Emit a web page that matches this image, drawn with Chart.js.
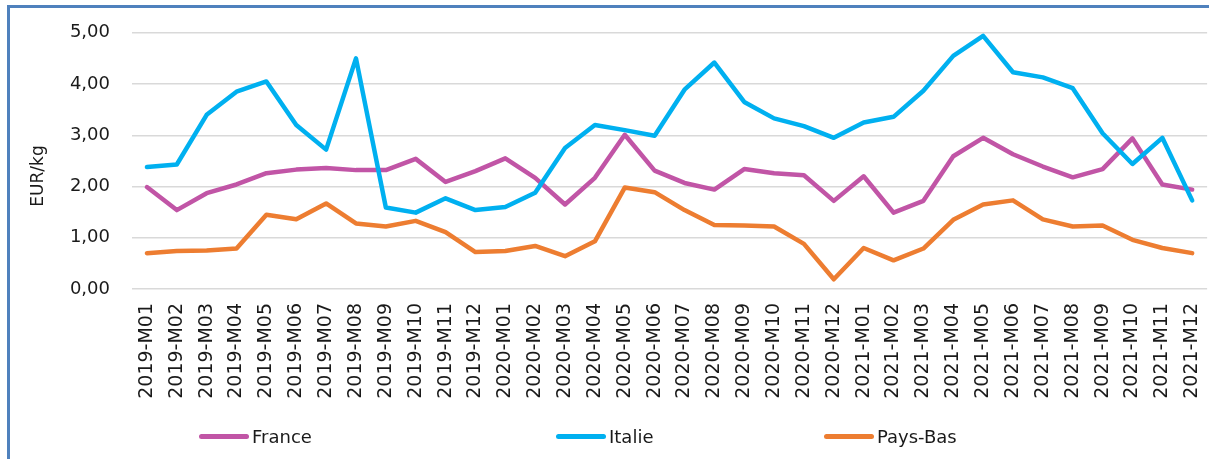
<!DOCTYPE html>
<html>
<head>
<meta charset="utf-8">
<script src="https://cdn.jsdelivr.net/npm/chart.js@4"></script>
<style>
  html, body { margin: 0; padding: 0; background: #fff; }
  body { width: 1209px; height: 459px; position: relative; overflow: hidden; font-family: "DejaVu Sans", sans-serif; }
  #frame { position: absolute; left: 7px; top: 5px; width: 1230px; height: 480px; border: 3px solid #4F81BD; box-sizing: border-box; }
  #wrap { position: absolute; left: 0; top: 0; width: 1229px; height: 459px; }
  .leg { position: absolute; top: 425px; height: 22px; display: flex; align-items: center; font-size: 18px; color: #1a1a1a; }
  .leg i { display: inline-block; width: 50px; height: 5px; border-radius: 3px; margin-right: 3px; }
</style>
</head>
<body>
<div id="frame"></div>
<div id="wrap"><canvas id="chart" width="1229" height="459"></canvas></div>
<div class="leg" style="left:199px"><i style="background:#C155A6"></i>France</div>
<div class="leg" style="left:556px"><i style="background:#00B0F0"></i>Italie</div>
<div class="leg" style="left:824px"><i style="background:#ED7D31"></i>Pays-Bas</div>
<script>
const months = [
  '2019-M01', '2019-M02', '2019-M03', '2019-M04', '2019-M05', '2019-M06',
  '2019-M07', '2019-M08', '2019-M09', '2019-M10', '2019-M11', '2019-M12',
  '2020-M01', '2020-M02', '2020-M03', '2020-M04', '2020-M05', '2020-M06',
  '2020-M07', '2020-M08', '2020-M09', '2020-M10', '2020-M11', '2020-M12',
  '2021-M01', '2021-M02', '2021-M03', '2021-M04', '2021-M05', '2021-M06',
  '2021-M07', '2021-M08', '2021-M09', '2021-M10', '2021-M11', '2021-M12'
];

const france = [
  1.99, 1.54, 1.87, 2.04, 2.26, 2.33, 2.36, 2.32, 2.32, 2.54, 2.09, 2.30,
  2.55, 2.17, 1.65, 2.17, 3.01, 2.31, 2.07, 1.94, 2.34, 2.26, 2.22, 1.72,
  2.20, 1.49, 1.72, 2.59, 2.95, 2.63, 2.39, 2.18, 2.34, 2.94, 2.04, 1.94
];

const italie = [
  2.38, 2.43, 3.40, 3.85, 4.05, 3.20, 2.72, 4.50, 1.59, 1.49, 1.77, 1.54,
  1.60, 1.88, 2.75, 3.20, 3.10, 2.99, 3.89, 4.42, 3.65, 3.33, 3.18, 2.95,
  3.25, 3.36, 3.87, 4.55, 4.94, 4.23, 4.13, 3.92, 3.04, 2.44, 2.95, 1.73
];

const paysBas = [
  0.70, 0.74, 0.75, 0.79, 1.45, 1.36, 1.67, 1.28, 1.22, 1.33, 1.11, 0.72,
  0.74, 0.84, 0.64, 0.93, 1.98, 1.89, 1.54, 1.25, 1.24, 1.22, 0.88, 0.19,
  0.80, 0.56, 0.79, 1.35, 1.65, 1.73, 1.36, 1.22, 1.24, 0.96, 0.80, 0.70
];

const yTitle = 'EUR/kg';

function line(label, data, color, order) {
  return {
    label: label,
    data: data,
    borderColor: color,
    backgroundColor: color,
    borderWidth: 4.5,
    pointRadius: 0,
    borderCapStyle: 'round',
    borderJoinStyle: 'round',
    tension: 0,
    fill: false,
    order: order
  };
}

// y axis title, drawn by hand so it sits where the original has it
const titlePlugin = {
  id: 'ytitle',
  afterDraw(chart) {
    const ctx = chart.ctx;
    ctx.save();
    ctx.translate(39, 176);
    ctx.rotate(-Math.PI / 2);
    ctx.font = '17px "DejaVu Sans"';
    ctx.fillStyle = '#1a1a1a';
    ctx.textAlign = 'center';
    ctx.textBaseline = 'middle';
    ctx.fillText(yTitle, 0, 0);
    ctx.restore();
  }
};

new Chart(document.getElementById('chart'), {
  type: 'line',
  data: {
    labels: months,
    datasets: [
      line('France', france, '#C155A6', 3),
      line('Italie', italie, '#00B0F0', 2),
      line('Pays-Bas', paysBas, '#ED7D31', 1)
    ]
  },
  plugins: [titlePlugin],
  options: {
    responsive: false,
    animation: false,
    layout: { padding: { top: 30, right: 2, left: 0, bottom: 0 } },
    plugins: {
      legend: { display: false },
      tooltip: { enabled: false }
    },
    scales: {
      x: {
        offset: true,
        grid: { display: false, drawTicks: false },
        border: { display: false },
        afterFit(scale) { scale.height = 170; },
        ticks: {
          autoSkip: false,
          maxRotation: 90,
          minRotation: 90,
          padding: 14,
          color: '#1a1a1a',
          font: { family: 'DejaVu Sans', size: 19 }
        }
      },
      y: {
        min: 0,
        max: 5,
        afterFit(scale) { scale.width = 132; },
        grid: { color: '#D9D9D9', lineWidth: 1.5, drawTicks: false },
        border: { display: false },
        ticks: {
          stepSize: 1,
          padding: 22,
          color: '#1a1a1a',
          font: { family: 'DejaVu Sans', size: 18 },
          callback: v => v.toFixed(2).replace('.', ',')
        }
      }
    }
  }
});
</script>
</body>
</html>
